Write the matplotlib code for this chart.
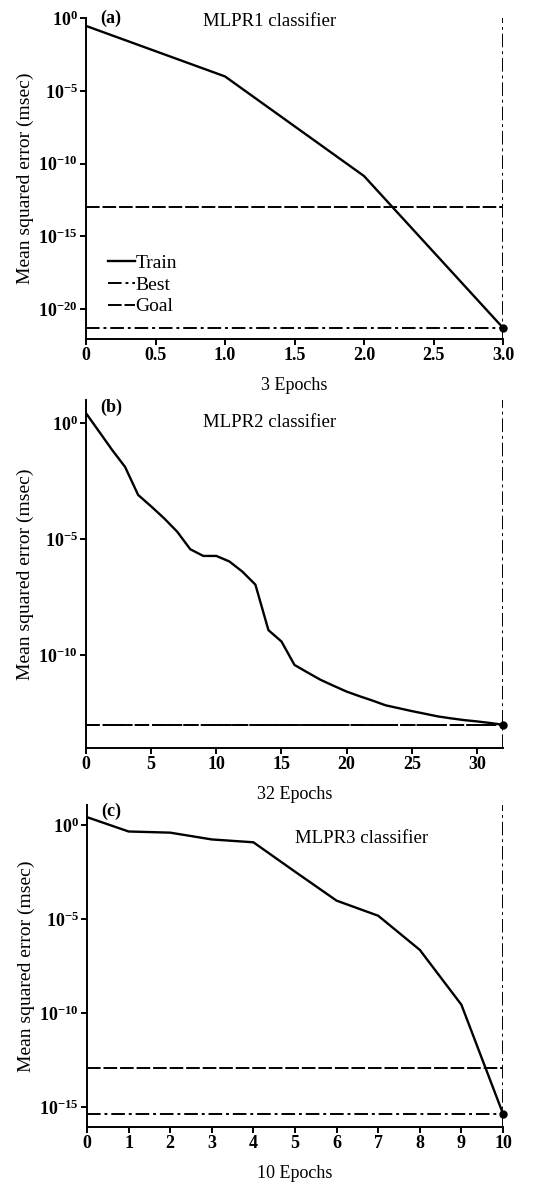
import matplotlib
matplotlib.use('Agg')
import matplotlib.pyplot as plt
from matplotlib.ticker import FixedLocator, NullLocator

plt.rcParams['font.family'] = ['Liberation Serif', 'DejaVu Serif']
plt.rcParams['mathtext.fontset'] = 'custom'
plt.rcParams['mathtext.rm'] = 'Liberation Serif'
plt.rcParams['mathtext.bf'] = 'Liberation Serif:bold'

# panel (a) - MLPR1
a_epochs = [0, 1, 2, 3]
a_train = [3.0e-1, 1.0e-4, 1.4e-11, 5.0e-22]
a_best = 5.0e-22
a_goal = 1.0e-13

# panel (b) - MLPR2
b_epochs = list(range(33))
b_train = [2.7e0, 4.4e-1, 7.1e-2, 1.3e-2, 8.1e-4, 2.6e-4, 7.9e-5, 2.1e-5, 3.7e-6,
           1.9e-6, 1.9e-6, 1.1e-6, 4.0e-7, 1.1e-7, 1.2e-9, 3.9e-10, 3.8e-11,
           1.8e-11, 8.7e-12, 4.8e-12, 2.7e-12, 1.7e-12, 1.1e-12, 6.9e-13,
           5.2e-13, 3.9e-13, 3.0e-13, 2.3e-13, 1.9e-13, 1.6e-13, 1.4e-13,
           1.2e-13, 1.0e-13]
b_best = 1.0e-13
b_goal = 1.0e-13

# panel (c) - MLPR3
c_epochs = list(range(11))
c_train = [2.6e0, 4.5e-1, 3.9e-1, 1.7e-1, 1.2e-1, 3.3e-3, 9.5e-5, 1.5e-5, 2.3e-7,
           2.8e-10, 4.5e-16]
c_best = 4.5e-16
c_goal = 1.2e-13

a_xticks = [0, 0.5, 1.0, 1.5, 2.0, 2.5, 3.0]
a_xlabels = ['0', '0.5', '1.0', '1.5', '2.0', '2.5', '3.0']
b_xticks = [0, 5, 10, 15, 20, 25, 30]
c_xticks = list(range(11))

a_yexp = [0, -5, -10, -15, -20]
b_yexp = [0, -5, -10]
c_yexp = [0, -5, -10, -15]

best_style = (0, (7, 2, 1.5, 2))
goal_style = (0, (7, 1.5))

fig = plt.figure(figsize=(5.52, 11.86), dpi=100)
W, H = 552.0, 1186.0


def make_ax(left, right, top, bottom):
    return fig.add_axes([left / W, 1 - bottom / H, (right - left) / W, (bottom - top) / H])


def style_ax(ax, xticks, xlabels, yexp, xlabel):
    ax.set_yscale('log')
    ax.spines['top'].set_visible(False)
    ax.spines['right'].set_visible(False)
    ax.spines['left'].set_linewidth(1.4)
    ax.spines['bottom'].set_linewidth(1.4)
    ax.set_xticks(xticks)
    ax.set_xticklabels(xlabels, fontweight='bold', fontsize=13)
    ax.yaxis.set_major_locator(FixedLocator([10.0 ** e for e in yexp]))
    ax.yaxis.set_minor_locator(NullLocator())
    ax.set_yticklabels([r'$\mathbf{10^{%d}}$' % e for e in yexp], fontsize=13)
    ax.tick_params(direction='out', length=4, width=1.4, pad=2)
    ax.set_ylabel('Mean squared error (msec)', fontsize=14, labelpad=3)
    ax.set_xlabel(xlabel, fontsize=13, labelpad=9)


def draw(ax, xs, train, best, goal, xmax):
    ax.plot(xs, train, '-', color='black', lw=1.7, label='Train')
    ax.axhline(best, color='black', lw=1.4, linestyle=best_style, label='Best')
    ax.axhline(goal, color='black', lw=1.4, linestyle=goal_style, label='Goal')
    ax.axvline(xs[-1], color='black', lw=1.4, linestyle=best_style)
    ax.plot([xs[-1]], [best], 'o', color='black', ms=5, clip_on=False)
    ax.set_xlim(0, xmax)


# (a)
ax1 = make_ax(86, 503, 18, 339)
draw(ax1, a_epochs, a_train, a_best, a_goal, 3.0)
ax1.set_ylim(8.5e-23, 1.05e0)
style_ax(ax1, a_xticks, a_xlabels, a_yexp, '3 Epochs')
ax1.text(0.035, 1.0, '(a)', transform=ax1.transAxes, fontsize=13, fontweight='bold', va='center')
ax1.text(0.44, 0.99, 'MLPR1 classifier', transform=ax1.transAxes, fontsize=13.5, ha='center', va='center')
ax1.legend(loc='upper left', bbox_to_anchor=(0.03, 0.295), frameon=False, fontsize=14,
           handlelength=1.4, handletextpad=0.0, labelspacing=0.22, borderpad=0)

# (b)
ax2 = make_ax(86, 503, 400, 748)
draw(ax2, b_epochs, b_train, b_best, b_goal, 32)
ax2.set_ylim(1e-14, 1e1)
style_ax(ax2, b_xticks, [str(t) for t in b_xticks], b_yexp, '32 Epochs')
ax2.text(0.035, 0.98, '(b)', transform=ax2.transAxes, fontsize=13, fontweight='bold', va='center')
ax2.text(0.44, 0.935, 'MLPR2 classifier', transform=ax2.transAxes, fontsize=13.5, ha='center', va='center')

# (c)
ax3 = make_ax(87, 503, 805, 1127)
draw(ax3, c_epochs, c_train, c_best, c_goal, 10)
ax3.set_ylim(8.9e-17, 1.15e1)
style_ax(ax3, c_xticks, [str(t) for t in c_xticks], c_yexp, '10 Epochs')
ax3.text(0.035, 0.98, '(c)', transform=ax3.transAxes, fontsize=13, fontweight='bold', va='center')
ax3.text(0.66, 0.895, 'MLPR3 classifier', transform=ax3.transAxes, fontsize=13.5, ha='center', va='center')

fig.savefig('out.png', dpi=100)
